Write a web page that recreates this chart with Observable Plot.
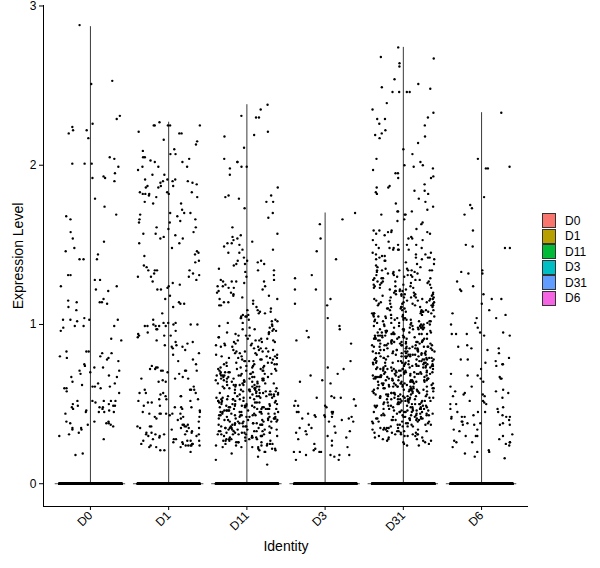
<!DOCTYPE html>
<html>
<head>
<meta charset="utf-8">
<script src="https://cdn.jsdelivr.net/npm/d3@7"></script>
<script src="https://cdn.jsdelivr.net/npm/@observablehq/plot@0.6"></script>
<style>
  html, body { margin: 0; padding: 0; background: #fff; }
  #wrap { position: relative; width: 600px; height: 568px; font-family: "Liberation Sans", Arial, sans-serif; }
  #legend { position: absolute; left: 542px; top: 213px; font-size: 12px; color: #000; }
  .row { display: flex; align-items: center; height: 15.5px; }
  .key { width: 12px; height: 13px; border: 1px solid #333; box-sizing: content-box; margin-right: 9px; }
  g[aria-label="y-axis label"] text, g[aria-label="x-axis label"] text { font-size: 14px; }
</style>
</head>
<body>
<div id="wrap"><div id="legend"></div></div>
<script>
const groups = ["D0", "D1", "D11", "D3", "D31", "D6"];
const groupColors = ["#F8766D", "#B79F00", "#00BA38", "#00BFC4", "#619CFF", "#F564E3"];
const violinMax = [2.87, 2.27, 2.38, 1.70, 2.74, 2.33];
const zeroCells = [600, 700, 750, 500, 700, 600];
const yTicks = [0, 1, 2, 3];

const exprD0 = [2.88,2.53,2.51,2.31,2.29,2.26,2.24,2.22,2.22,2.20,2.17,2.05,2.04,2.01,2.01,2.01,1.99,1.93,1.95,1.92,1.92,1.90,1.79,1.74,1.69,1.68,1.66,1.58,1.54,1.52,1.48,1.44,1.46,1.41,
1.31,1.24,1.21,1.24,1.22,1.28,1.28,1.31,1.41,1.41,1.11,1.09,1.14,1.16,1.14,1.14,1.15,1.13,1.02,1.03,1.03,1.03,1.03,1.04,.99,.96,.99,.98,.99,.83,.78,.80,.82,.80,.90,.83,.77,.82,.83,.91,.79,.79,.75,.74,.73,.71,.67,.67,.71,.73,.68,.70,.69,.61,.63,.60,.61,.60,.62,.64,.57,.61,.63,.60,.58,.52,.50,.46,.44,.52,.52,.52,.51,.49,.49,.47,.47,.52,.45,.46,.48,.48,.49,.50,.48,.45,.45,.45,.38,.35,.37,.37,.35,.36,.39,.39,.38,.39,.38,.34,.34,.32,.31,.30,.28,.18,.19];

const exprD1 = [2.27,2.25,2.25,2.25,2.25,2.25,2.21,2.20,2.20,2.16,2.15,2.13,2.10,2.09,2.07,2.07,2.05,2.05,2.04,2.02,2.02,2.03,1.99,1.99,1.99,1.97,1.94,1.94,1.91,1.91,1.91,1.90,1.90,1.90,1.89,1.89,1.88,1.87,1.87,1.87,1.86,1.86,1.83,1.83,1.83,1.82,1.82,1.82,1.82,1.81,1.80,1.80,1.77,1.76,1.76,1.72,1.70,1.70,1.70,1.69,1.68,1.66,1.66,1.65,1.64,1.64,1.61,1.61,1.60,1.58,1.57,1.57,1.56,1.55,1.54,1.54,1.51,1.51,1.48,1.46,1.45,1.44,1.43,1.40,1.39,1.37,1.36,1.34,1.34,1.34,1.34,1.32,1.32,1.31,1.30,1.30,1.30,1.28,1.27,1.26,1.25,1.24,1.23,1.22,1.22,1.18,1.16,
1.14,1.13,1.13,1.11,1.07,1.03,1.01,1.01,1.01,1.00,1.00,1.00,1.00,.99,.99,.99,.99,.99,.97,.97,.96,.95,.94,.93,.93,.93,.92,.90,.89,.89,.88,.87,.87,.86,.86,.85,.84,.82,.81,.78,.77,.75,.74,.73,.73,.72,.72,.71,.71,.71,.71,.71,.70,.69,.67,.66,.66,.66,.65,.64,.64,.61,.59,.59,.59,.59,.57,.57,.57,.57,.56,.55,.55,.55,.53,.53,.53,.52,.52,.51,.51,.49,.49,.48,.48,.48,.47,.46,.45,.45,.44,.44,.44,.44,.44,.44,.43,.42,.42,.42,.41,.41,.40,.39,.37,.37,.37,.36,.36,.36,.36,.36,.35,.35,.35,.35,.34,.33,.33,.32,.32,.32,.31,.31,.31,.31,.31,.30,.30,.30,.29,.28,.28,.28,.27,.27,.27,.27,.26,.26,.25,.25,.25,.25,.24,.24,.24,.24,.24,.24,.23,.23,.23,.21,.21,.20];

const exprD11 = [2.38,2.35,2.31,2.30,2.30,2.21,2.19,2.18,2.11,2.04,2.02,2.02,1.99,1.99,1.98,1.94,1.86,1.81,1.81,1.80,1.79,1.77,1.77,1.73,1.70,1.67,1.61,1.57,1.56,1.55,1.54,1.53,1.52,1.51,1.50,1.51,1.49,1.47,1.47,1.45,1.45,1.42,1.40,1.40,1.40,1.39,1.38,1.38,1.38,1.37,1.35,1.34,1.34,1.33,1.31,1.30,1.28,1.28,1.27,1.27,1.27,1.27,1.26,1.25,1.24,1.24,1.24,1.23,1.23,
1.22,1.21,1.20,1.20,1.19,1.18,1.18,1.17,1.16,1.16,1.15,1.14,1.14,1.13,1.12,1.12,1.11,1.10,
1.09,1.09,1.08,1.08,1.07,1.07,1.06,1.06,1.05,1.05,1.05,1.04,1.04,1.03,1.03,1.02,1.02,1.01,1.01,1.00,
.99,.99,.98,.98,.97,.97,.97,.96,.96,.95,.95,.95,.94,.94,.93,.93,.93,.92,.92,.91,.91,.91,.90,.90,.90,.90,
.89,.89,.89,.88,.88,.88,.87,.87,.87,.86,.86,.86,.85,.85,.85,.84,.84,.84,.83,.83,.83,.83,.82,.82,.82,.81,.81,.81,.80,.80,.80,.80,
.79,.79,.79,.79,.78,.78,.78,.78,.77,.77,.77,.77,.76,.76,.76,.76,.75,.75,.75,.75,.74,.74,.74,.74,.73,.73,.73,.73,.72,.72,.72,.72,.71,.71,.71,.71,.71,.70,.70,.70,.70,.70,
.69,.69,.69,.69,.69,.69,.68,.68,.68,.68,.68,.68,.67,.67,.67,.67,.67,.66,.66,.66,.66,.66,.66,.65,.65,.65,.65,.65,.64,.64,.64,.64,.64,.64,.63,.63,.63,.63,.63,.62,.62,.62,.62,.62,.62,.61,.61,.61,.61,.61,.60,.60,.60,.60,.60,
.59,.59,.59,.59,.59,.59,.58,.58,.58,.58,.58,.58,.57,.57,.57,.57,.57,.57,.56,.56,.56,.56,.56,.56,.55,.55,.55,.55,.55,.55,.54,.54,.54,.54,.54,.54,.53,.53,.53,.53,.53,.53,.52,.52,.52,.52,.52,.52,.51,.51,.51,.51,.51,.51,.50,.50,.50,.50,.50,.50,
.49,.49,.49,.49,.49,.49,.49,.48,.48,.48,.48,.48,.48,.48,.47,.47,.47,.47,.47,.47,.47,.46,.46,.46,.46,.46,.46,.45,.45,.45,.45,.45,.45,.45,.44,.44,.44,.44,.44,.44,.43,.43,.43,.43,.43,.43,.43,.42,.42,.42,.42,.42,.42,.41,.41,.41,.41,.41,.41,.40,.40,.40,.40,.40,.40,
.39,.39,.39,.39,.39,.39,.38,.38,.38,.38,.38,.38,.37,.37,.37,.37,.37,.37,.36,.36,.36,.36,.36,.36,.35,.35,.35,.35,.35,.35,.34,.34,.34,.34,.34,.34,.33,.33,.33,.33,.33,.33,.32,.32,.32,.32,.32,.32,.31,.31,.31,.31,.31,.31,.30,.30,.30,.30,.30,.30,
.29,.29,.29,.29,.29,.28,.28,.28,.28,.28,.27,.27,.27,.27,.27,.26,.26,.26,.26,.25,.25,.25,.25,.24,.24,.24,.24,.23,.23,.23,.23,.22,.22,.22,.21,.21,.20,.20,
.19,.17,.15,.12];

const exprD3 = [1.70,1.66,1.63,1.54,1.46,1.41,1.31,1.29,1.22,1.22,1.16,1.13,1.12,1.04,.99,.97,.96,.92,.90,.88,.77,.73,.72,.69,.68,.65,.64,.63,.55,.54,.54,.54,.53,.52,.49,.49,.49,.49,.48,.45,.45,.45,.45,.44,.44,.43,.43,.42,.42,.42,.42,.41,.41,.40,.39,.39,.37,.36,.35,.35,.33,.33,.32,.32,.31,.30,.29,.28,.27,.25,.24,.23,.22,.21,.20,.20,.20,.20,.18,.18,.18,.18,.17,.15,.15];

const exprD31 = [2.74,2.68,2.67,2.64,2.62,2.54,2.51,2.49,2.48,2.46,2.46,2.46,2.46,2.39,2.35,2.33,2.30,2.29,2.29,2.26,2.25,2.22,2.20,2.19,2.18,2.17,2.14,2.10,2.07,2.04,2.02,2.00,2.00,1.99,1.98,1.97,1.95,1.95,1.93,1.92,1.92,1.88,1.87,1.86,1.86,1.84,1.84,1.83,1.82,1.82,1.79,1.77,1.76,1.74,1.72,1.71,1.71,1.71,1.69,1.69,1.69,1.66,1.65,1.64,1.63,1.60,1.59,1.59,1.59,1.58,1.58,1.58,1.57,1.57,1.56,1.55,1.54,1.54,1.53,1.52,1.53,1.50,1.50,1.50,1.50,1.48,1.47,1.47,1.48,1.48,1.48,1.47,1.47,1.45,1.45,1.44,1.44,1.44,1.43,1.43,1.42,1.42,1.42,1.42,1.41,1.41,1.41,1.40,1.40,1.38,1.38,1.39,1.37,1.36,1.36,1.35,1.35,1.34,1.34,1.34,1.34,1.34,1.34,1.34,1.33,1.33,1.33,
1.32,1.32,1.32,1.31,1.31,1.31,1.31,1.30,1.30,1.30,1.29,1.29,1.29,1.29,1.28,1.28,1.28,1.27,1.27,1.27,1.27,1.26,1.26,1.26,1.25,1.25,1.25,1.25,1.24,1.24,1.24,1.23,1.23,1.23,1.23,1.22,1.22,1.22,1.21,1.21,1.21,1.21,1.20,1.20,1.20,
1.19,1.19,1.19,1.19,1.19,1.18,1.18,1.18,1.18,1.17,1.17,1.17,1.17,1.17,1.16,1.16,1.16,1.16,1.15,1.15,1.15,1.15,1.15,1.14,1.14,1.14,1.14,1.13,1.13,1.13,1.13,1.13,1.12,1.12,1.12,1.12,1.11,1.11,1.11,1.11,1.11,1.10,1.10,1.10,1.10,
1.09,1.09,1.09,1.09,1.09,1.08,1.08,1.08,1.08,1.08,1.07,1.07,1.07,1.07,1.07,1.06,1.06,1.06,1.06,1.06,1.05,1.05,1.05,1.05,1.05,1.04,1.04,1.04,1.04,1.04,1.03,1.03,1.03,1.03,1.03,1.02,1.02,1.02,1.02,1.02,1.01,1.01,1.01,1.01,1.01,1.00,1.00,1.00,1.00,1.00,
.99,.99,.99,.99,.99,.99,.98,.98,.98,.98,.98,.98,.97,.97,.97,.97,.97,.97,.96,.96,.96,.96,.96,.96,.95,.95,.95,.95,.95,.95,.94,.94,.94,.94,.94,.94,.93,.93,.93,.93,.93,.93,.92,.92,.92,.92,.92,.92,.91,.91,.91,.91,.91,.91,.90,.90,.90,.90,.90,.90,
.89,.89,.89,.89,.89,.89,.89,.88,.88,.88,.88,.88,.88,.88,.87,.87,.87,.87,.87,.87,.87,.86,.86,.86,.86,.86,.86,.86,.85,.85,.85,.85,.85,.85,.85,.84,.84,.84,.84,.84,.84,.84,.83,.83,.83,.83,.83,.83,.83,.82,.82,.82,.82,.82,.82,.82,.81,.81,.81,.81,.81,.81,.81,.80,.80,.80,.80,.80,.80,.80,
.79,.79,.79,.79,.79,.79,.79,.78,.78,.78,.78,.78,.78,.78,.78,.77,.77,.77,.77,.77,.77,.77,.76,.76,.76,.76,.76,.76,.76,.76,.75,.75,.75,.75,.75,.75,.75,.74,.74,.74,.74,.74,.74,.74,.74,.73,.73,.73,.73,.73,.73,.73,.72,.72,.72,.72,.72,.72,.72,.72,.71,.71,.71,.71,.71,.71,.71,.70,.70,.70,.70,.70,.70,.70,.70,
.69,.69,.69,.69,.69,.69,.69,.69,.68,.68,.68,.68,.68,.68,.68,.67,.67,.67,.67,.67,.67,.67,.67,.66,.66,.66,.66,.66,.66,.66,.65,.65,.65,.65,.65,.65,.65,.65,.64,.64,.64,.64,.64,.64,.64,.63,.63,.63,.63,.63,.63,.63,.63,.62,.62,.62,.62,.62,.62,.62,.61,.61,.61,.61,.61,.61,.61,.61,.60,.60,.60,.60,.60,.60,.60,
.59,.59,.59,.59,.59,.59,.59,.58,.58,.58,.58,.58,.58,.58,.57,.57,.57,.57,.57,.57,.57,.56,.56,.56,.56,.56,.56,.56,.55,.55,.55,.55,.55,.55,.55,.54,.54,.54,.54,.54,.54,.54,.53,.53,.53,.53,.53,.53,.53,.52,.52,.52,.52,.52,.52,.52,.51,.51,.51,.51,.51,.51,.51,.50,.50,.50,.50,.50,.50,.50,
.49,.49,.49,.49,.49,.49,.49,.48,.48,.48,.48,.48,.48,.47,.47,.47,.47,.47,.47,.47,.46,.46,.46,.46,.46,.46,.45,.45,.45,.45,.45,.45,.45,.44,.44,.44,.44,.44,.44,.43,.43,.43,.43,.43,.43,.43,.42,.42,.42,.42,.42,.42,.41,.41,.41,.41,.41,.41,.41,.40,.40,.40,.40,.40,.40,
.39,.39,.39,.39,.39,.38,.38,.38,.38,.37,.37,.37,.37,.37,.36,.36,.36,.36,.35,.35,.35,.35,.35,.34,.34,.34,.34,.33,.33,.33,.33,.33,.32,.32,.32,.32,.31,.31,.31,.31,.31,.30,.30,.30,.30,
.29,.29,.29,.28,.28,.28,.27,.27,.27,.26,.26,.25,.25,.24,.24];

const exprD6 = [2.33,2.04,1.99,1.98,1.98,1.80,1.75,1.73,1.69,1.59,1.50,1.49,1.48,1.48,1.34,1.33,1.32,1.32,1.27,1.24,1.22,1.21,1.19,1.16,1.16,1.13,1.09,1.07,1.06,1.04,1.04,1.01,1.00,.98,.95,.94,.94,.94,.95,.93,.93,.87,.85,.85,.86,.84,.82,.79,.78,.78,.77,.76,.75,.74,.75,.72,.69,.68,.68,.67,.66,.66,.66,.64,.61,.61,.59,.58,.58,.57,.56,.57,.56,.55,.55,.54,.52,.52,.51,.50,.50,.50,.48,.47,.47,.45,.45,.45,.45,.43,.43,.42,.42,.42,.42,.42,.41,.40,.39,.39,.38,.38,.38,.37,.37,.37,.37,.34,.34,.33,.31,.30,.30,.30,.30,.28,.27,.26,.26,.26,.26,.25,.24,.23,.21,.20,.20,.19,.17,.16];

const series = [exprD0, exprD1, exprD11, exprD3, exprD31, exprD6];

// deterministic jitter offset (layout only), width 0.4 each side like geom_jitter
function jitterOffset(n) {
  let h = Math.imul(n ^ 0x9e3779b9, 0x85ebca6b);
  h ^= h >>> 13;
  h = Math.imul(h, 0xc2b2ae35);
  h ^= h >>> 16;
  return ((h >>> 0) / 4294967296 - 0.5) * 0.8;
}

const cells = [];
series.forEach((vals, g) => {
  for (let k = 0; k < zeroCells[g]; k++) cells.push({g, v: 0});
  vals.forEach(v => cells.push({g, v}));
});
cells.forEach((c, i) => { c.pos = c.g + 1 + jitterOffset(i + 7); });

const idx = groups.map((_, i) => i);

const chart = Plot.plot({
  width: 600,
  height: 568,
  marginLeft: 43,
  marginRight: 72,
  marginTop: 5,
  marginBottom: 62,
  style: {fontFamily: "'Liberation Sans', Arial, sans-serif", fontSize: "12px", color: "#000", background: "#fff"},
  x: {type: "linear", domain: [0.4, 6.6]},
  y: {domain: [-0.143, 3.003]},
  marks: [
    Plot.ruleY(idx, {y: () => 0, x1: i => i + 1 - 0.45, x2: i => i + 1 + 0.45, stroke: "#222", strokeWidth: 0.8}),
    Plot.ruleX(idx, {x: i => i + 1, y1: () => 0, y2: i => violinMax[i], stroke: "#222", strokeWidth: 0.9}),
    Plot.dot(cells, {x: "pos", y: "v", r: 1.2, fill: "#000", stroke: null}),
    Plot.ruleX([0.4], {stroke: "#000", strokeWidth: 1}),
    Plot.ruleY([-0.143], {stroke: "#000", strokeWidth: 1}),
    Plot.axisY({ticks: yTicks, tickFormat: d3.format("d"), tickSize: 4, tickPadding: 3, label: "Expression Level", labelAnchor: "center", labelArrow: "none", labelOffset: 30}),
    Plot.axisX({ticks: [1, 2, 3, 4, 5, 6], tickFormat: t => groups[t - 1], tickRotate: -45, tickSize: 4, tickPadding: 3, label: "Identity", labelAnchor: "center", labelArrow: "none", labelOffset: 44})
  ]
});
document.getElementById("wrap").prepend(chart);

const legend = document.getElementById("legend");
groups.forEach((g, i) => {
  const row = document.createElement("div");
  row.className = "row";
  const key = document.createElement("div");
  key.className = "key";
  key.style.background = groupColors[i];
  const lab = document.createElement("span");
  lab.textContent = g;
  row.appendChild(key);
  row.appendChild(lab);
  legend.appendChild(row);
});
</script>
</body>
</html>
